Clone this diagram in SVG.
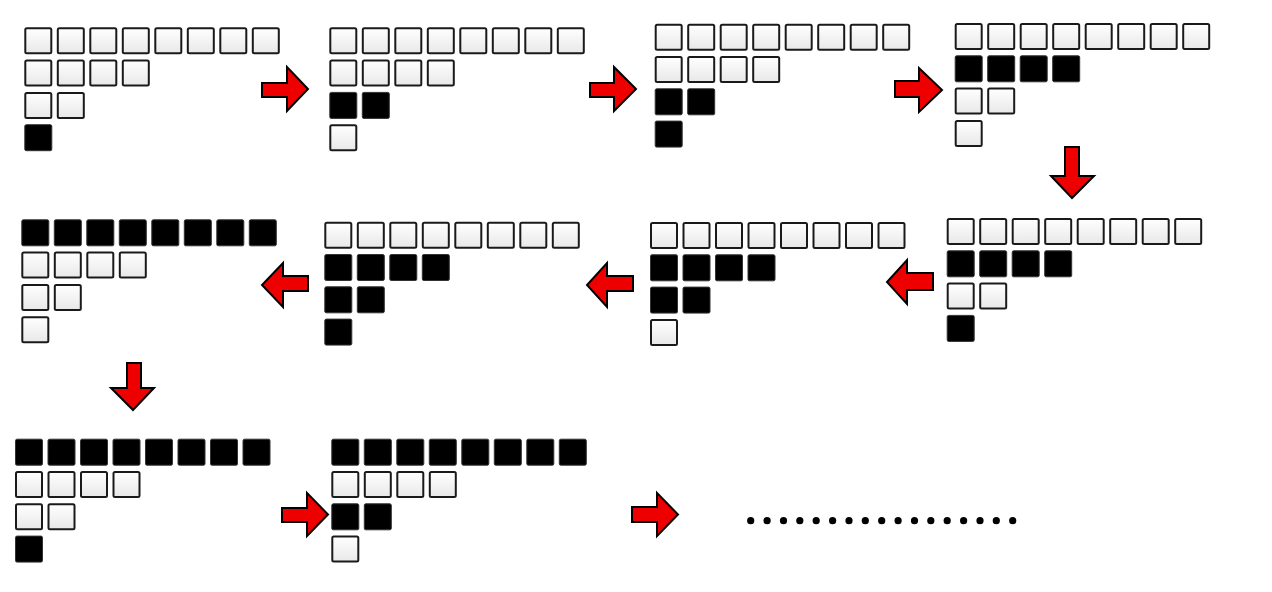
<svg xmlns="http://www.w3.org/2000/svg" xmlns:xlink="http://www.w3.org/1999/xlink" width="1272" height="592" viewBox="0 0 1272 592">
<style>
.arrow{fill:#ee0000;stroke:#000;stroke-width:2;stroke-linejoin:miter}
.dot{fill:#000}
</style>
<defs>
<linearGradient id="g" x1="0" y1="0" x2="0" y2="1">
<stop offset="0" stop-color="#ffffff"/>
<stop offset="1" stop-color="#e8e8e8"/>
</linearGradient>
<g id="w"><rect x="1" y="1" width="26" height="25" rx="1.5" fill="url(#g)" stroke="#1a1a1a" stroke-width="2"/></g>
<g id="b"><rect x="0.5" y="0.5" width="27" height="26" rx="1.5" fill="#000" stroke="#333" stroke-width="1"/></g>
</defs>
<rect width="1272" height="592" fill="#fff"/>

<g id="block1" transform="translate(24.3,27.3)">
<use href="#w" x="0" y="0"/><use href="#w" x="32.5" y="0"/><use href="#w" x="65" y="0"/><use href="#w" x="97.5" y="0"/><use href="#w" x="130" y="0"/><use href="#w" x="162.5" y="0"/><use href="#w" x="195" y="0"/><use href="#w" x="227.5" y="0"/>
<use href="#w" x="0" y="32.3"/><use href="#w" x="32.5" y="32.3"/><use href="#w" x="65" y="32.3"/><use href="#w" x="97.5" y="32.3"/>
<use href="#w" x="0" y="64.6"/><use href="#w" x="32.5" y="64.6"/>
<use href="#b" x="0" y="96.9"/>
</g>

<g id="block2" transform="translate(329.3,27.3)">
<use href="#w" x="0" y="0"/><use href="#w" x="32.5" y="0"/><use href="#w" x="65" y="0"/><use href="#w" x="97.5" y="0"/><use href="#w" x="130" y="0"/><use href="#w" x="162.5" y="0"/><use href="#w" x="195" y="0"/><use href="#w" x="227.5" y="0"/>
<use href="#w" x="0" y="32.3"/><use href="#w" x="32.5" y="32.3"/><use href="#w" x="65" y="32.3"/><use href="#w" x="97.5" y="32.3"/>
<use href="#b" x="0" y="64.6"/><use href="#b" x="32.5" y="64.6"/>
<use href="#w" x="0" y="96.9"/>
</g>

<g id="block3" transform="translate(654.7,23.7)">
<use href="#w" x="0" y="0"/><use href="#w" x="32.5" y="0"/><use href="#w" x="65" y="0"/><use href="#w" x="97.5" y="0"/><use href="#w" x="130" y="0"/><use href="#w" x="162.5" y="0"/><use href="#w" x="195" y="0"/><use href="#w" x="227.5" y="0"/>
<use href="#w" x="0" y="32.3"/><use href="#w" x="32.5" y="32.3"/><use href="#w" x="65" y="32.3"/><use href="#w" x="97.5" y="32.3"/>
<use href="#b" x="0" y="64.6"/><use href="#b" x="32.5" y="64.6"/>
<use href="#b" x="0" y="96.9"/>
</g>

<g id="block4" transform="translate(954.7,23)">
<use href="#w" x="0" y="0"/><use href="#w" x="32.5" y="0"/><use href="#w" x="65" y="0"/><use href="#w" x="97.5" y="0"/><use href="#w" x="130" y="0"/><use href="#w" x="162.5" y="0"/><use href="#w" x="195" y="0"/><use href="#w" x="227.5" y="0"/>
<use href="#b" x="0" y="32.3"/><use href="#b" x="32.5" y="32.3"/><use href="#b" x="65" y="32.3"/><use href="#b" x="97.5" y="32.3"/>
<use href="#w" x="0" y="64.6"/><use href="#w" x="32.5" y="64.6"/>
<use href="#w" x="0" y="96.9"/>
</g>

<g id="block5" transform="translate(946.7,218)">
<use href="#w" x="0" y="0"/><use href="#w" x="32.5" y="0"/><use href="#w" x="65" y="0"/><use href="#w" x="97.5" y="0"/><use href="#w" x="130" y="0"/><use href="#w" x="162.5" y="0"/><use href="#w" x="195" y="0"/><use href="#w" x="227.5" y="0"/>
<use href="#b" x="0" y="32.3"/><use href="#b" x="32.5" y="32.3"/><use href="#b" x="65" y="32.3"/><use href="#b" x="97.5" y="32.3"/>
<use href="#w" x="0" y="64.6"/><use href="#w" x="32.5" y="64.6"/>
<use href="#b" x="0" y="96.9"/>
</g>

<g id="block6" transform="translate(650,222)">
<use href="#w" x="0" y="0"/><use href="#w" x="32.5" y="0"/><use href="#w" x="65" y="0"/><use href="#w" x="97.5" y="0"/><use href="#w" x="130" y="0"/><use href="#w" x="162.5" y="0"/><use href="#w" x="195" y="0"/><use href="#w" x="227.5" y="0"/>
<use href="#b" x="0" y="32.3"/><use href="#b" x="32.5" y="32.3"/><use href="#b" x="65" y="32.3"/><use href="#b" x="97.5" y="32.3"/>
<use href="#b" x="0" y="64.6"/><use href="#b" x="32.5" y="64.6"/>
<use href="#w" x="0" y="96.9"/>
</g>

<g id="block7" transform="translate(324.3,221.7)">
<use href="#w" x="0" y="0"/><use href="#w" x="32.5" y="0"/><use href="#w" x="65" y="0"/><use href="#w" x="97.5" y="0"/><use href="#w" x="130" y="0"/><use href="#w" x="162.5" y="0"/><use href="#w" x="195" y="0"/><use href="#w" x="227.5" y="0"/>
<use href="#b" x="0" y="32.3"/><use href="#b" x="32.5" y="32.3"/><use href="#b" x="65" y="32.3"/><use href="#b" x="97.5" y="32.3"/>
<use href="#b" x="0" y="64.6"/><use href="#b" x="32.5" y="64.6"/>
<use href="#b" x="0" y="96.9"/>
</g>

<g id="block8" transform="translate(21.3,219.3)">
<use href="#b" x="0" y="0"/><use href="#b" x="32.5" y="0"/><use href="#b" x="65" y="0"/><use href="#b" x="97.5" y="0"/><use href="#b" x="130" y="0"/><use href="#b" x="162.5" y="0"/><use href="#b" x="195" y="0"/><use href="#b" x="227.5" y="0"/>
<use href="#w" x="0" y="32.3"/><use href="#w" x="32.5" y="32.3"/><use href="#w" x="65" y="32.3"/><use href="#w" x="97.5" y="32.3"/>
<use href="#w" x="0" y="64.6"/><use href="#w" x="32.5" y="64.6"/>
<use href="#w" x="0" y="96.9"/>
</g>

<g id="block9" transform="translate(15,438.7)">
<use href="#b" x="0" y="0"/><use href="#b" x="32.5" y="0"/><use href="#b" x="65" y="0"/><use href="#b" x="97.5" y="0"/><use href="#b" x="130" y="0"/><use href="#b" x="162.5" y="0"/><use href="#b" x="195" y="0"/><use href="#b" x="227.5" y="0"/>
<use href="#w" x="0" y="32.3"/><use href="#w" x="32.5" y="32.3"/><use href="#w" x="65" y="32.3"/><use href="#w" x="97.5" y="32.3"/>
<use href="#w" x="0" y="64.6"/><use href="#w" x="32.5" y="64.6"/>
<use href="#b" x="0" y="96.9"/>
</g>

<g id="block10" transform="translate(331.3,438.7)">
<use href="#b" x="0" y="0"/><use href="#b" x="32.5" y="0"/><use href="#b" x="65" y="0"/><use href="#b" x="97.5" y="0"/><use href="#b" x="130" y="0"/><use href="#b" x="162.5" y="0"/><use href="#b" x="195" y="0"/><use href="#b" x="227.5" y="0"/>
<use href="#w" x="0" y="32.3"/><use href="#w" x="32.5" y="32.3"/><use href="#w" x="65" y="32.3"/><use href="#w" x="97.5" y="32.3"/>
<use href="#b" x="0" y="64.6"/><use href="#b" x="32.5" y="64.6"/>
<use href="#w" x="0" y="96.9"/>
</g>

<g id="connectors">
<path class="arrow" d="M262 83 H287 V67 L308 89 L287 111 V97 H262 Z"/>
<path class="arrow" d="M590 83 H614 V67 L636 89 L614 111 V97 H590 Z"/>
<path class="arrow" d="M895 81 H919 V68 L942 90 L919 112 V97 H895 Z"/>
<path class="arrow" d="M1065 147 H1079 V176 H1094 L1072 198 L1051 176 H1065 Z"/>
<path class="arrow" d="M933 273 H907 V260 L887 282 L907 304 V290 H933 Z"/>
<path class="arrow" d="M633 276 H607 V263 L587 285 L607 307 V291 H633 Z"/>
<path class="arrow" d="M308 276 H283 V263 L262 285 L283 307 V291 H308 Z"/>
<path class="arrow" d="M127 363 H141 V388 H154 L133 410 L111 388 H127 Z"/>
<path class="arrow" d="M282 508 H307 V493 L328 514.5 L307 536 V522 H282 Z"/>
<path class="arrow" d="M632 507 H657 V493 L678 514.5 L657 536 V522 H632 Z"/>
</g>

<g id="ellipsis">
<circle class="dot" cx="750.7" cy="520.7" r="3.6"/>
<circle class="dot" cx="767.1" cy="520.7" r="3.6"/>
<circle class="dot" cx="783.5" cy="520.7" r="3.6"/>
<circle class="dot" cx="799.8" cy="520.7" r="3.6"/>
<circle class="dot" cx="816.2" cy="520.7" r="3.6"/>
<circle class="dot" cx="832.6" cy="520.7" r="3.6"/>
<circle class="dot" cx="849.0" cy="520.7" r="3.6"/>
<circle class="dot" cx="865.3" cy="520.7" r="3.6"/>
<circle class="dot" cx="881.7" cy="520.7" r="3.6"/>
<circle class="dot" cx="898.1" cy="520.7" r="3.6"/>
<circle class="dot" cx="914.5" cy="520.7" r="3.6"/>
<circle class="dot" cx="930.8" cy="520.7" r="3.6"/>
<circle class="dot" cx="947.2" cy="520.7" r="3.6"/>
<circle class="dot" cx="963.6" cy="520.7" r="3.6"/>
<circle class="dot" cx="980.0" cy="520.7" r="3.6"/>
<circle class="dot" cx="996.3" cy="520.7" r="3.6"/>
<circle class="dot" cx="1012.7" cy="520.7" r="3.6"/>
</g>
</svg>
